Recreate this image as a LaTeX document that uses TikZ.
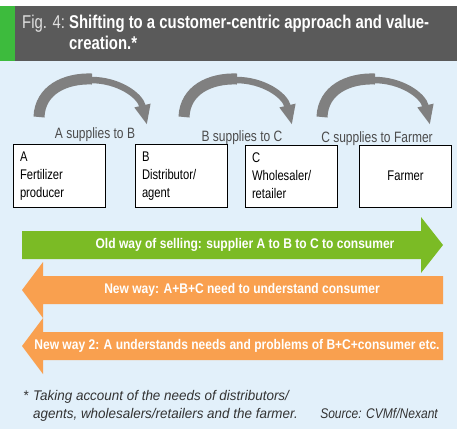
\documentclass[tikz,border=0pt]{standalone}
\usepackage{fontspec}
\setmainfont{Liberation Sans}[FakeStretch=0.86]
\newfontfamily\condfont{Liberation Sans}[FakeStretch=0.8]
\newfontfamily\ttlfont{Liberation Sans}[FakeStretch=0.805]
\newfontfamily\plainfont{Liberation Sans}[FakeStretch=0.96]
\usetikzlibrary{arrows.meta}

\definecolor{bgblue}{HTML}{E2F0FA}
\definecolor{bandgrey}{HTML}{5A5A5A}
\definecolor{stripegreen}{HTML}{3DBB3D}
\definecolor{arcgrey}{HTML}{808080}
\definecolor{oldgreen}{HTML}{7BBB25}
\definecolor{neworange}{HTML}{F9A04F}
\definecolor{notegrey}{HTML}{333333}

\tikzstyle{party}=[rectangle, draw=black, fill=white, line width=0.8pt, minimum width=92pt, minimum height=62pt, text width=78pt, inner sep=7pt, align=left, font=\condfont\fontsize{14}{18}\selectfont]
\tikzstyle{supply} = [anchor=base, inner sep=0pt, text=black!70, font=\condfont\fontsize{15}{18}\selectfont]
\tikzstyle{bartext} = [inner sep=0pt, text=white, font=\bfseries\fontsize{14}{16}\selectfont]
\tikzstyle{note} = [anchor=base west, inner sep=0pt, text=notegrey, font=\plainfont\itshape\fontsize{14}{18}\selectfont]
\tikzstyle{heading} = [anchor=base west, inner sep=0pt, text=white, font=\ttlfont\bfseries\fontsize{18.5}{20}\selectfont]
\tikzstyle{supplyarc} = [draw=arcgrey]

\begin{document}
\begin{tikzpicture}[x=1pt, y=-1pt]
        \useasboundingbox (0,0) rectangle (457,429);
        % background and title band
        \fill[bgblue] (0,61) rectangle (457,429);
        \fill[bandgrey] (15,6) rectangle (457,61);
        \fill[stripegreen] (0,6) rectangle (15,61);
        \node[heading, text=black!12, font=\ttlfont\fontsize{18.5}{20}\selectfont] (fig) at (22,28) {Fig. 4:};
        \node[heading] (title1) at (69,28) {Shifting to a customer-centric approach and value-};
        \node[heading] (title2) at (69,49) {creation.*};
        % curved supply arrows
        \foreach \dx in {0,145,283} {
            \begin{scope}[xshift=\dx]
                \path[supplyarc, line width=11pt] (39,117) .. controls (40,90) and (65,78) .. (92,79);
                \path[supplyarc, line width=6.5pt, -{Triangle[length=20pt,width=15pt]}] (91,80) .. controls (118,80) and (140,95) .. (147,125);
            \end{scope}
        }
        \node[supply] (ab) at (95,138) {A supplies to B};
        \node[supply] (bc) at (242,141) {B supplies to C};
        \node[supply] (cf) at (377,142) {C supplies to Farmer};
        % boxes
        \foreach \pos/\name/\txt in {{(59,176)/A/{A\\Fertilizer\\producer}}, {(181,176)/B/{B\\Distributor/\\agent}}, {(291,176)/C/{C\\Wholesaler/\\retailer}}}
            \node[party] (\name) at \pos {\txt};
        \node[party, align=center] (farmer) at (405.5,176) {Farmer};
        % selling arrows
        \fill[oldgreen] (22,231) -- (421,231) -- (421,217) -- (443,245) -- (421,273) -- (421,259) -- (22,259) -- cycle;
        \foreach \y in {290,346}
            \fill[neworange] (443,\y-14) -- (43,\y-14) -- (43,\y-28) -- (22,\y) -- (43,\y+28) -- (43,\y+14) -- (443,\y+14) -- cycle;
        \node[bartext] (old) at (245,245) {Old way of selling: supplier A to B to C to consumer};
        \node[bartext] (new) at (242,290) {New way: A+B+C need to understand consumer};
        \node[bartext] (new2) at (237,346) {New way 2: A understands needs and problems of B+C+consumer etc.};
        % footnote
        \node[note] (star) at (23,400) {*};
        \node[note] (note1) at (33,400) {Taking account of the needs of distributors/};
        \node[note] (note2) at (33,418) {agents, wholesalers/retailers and the farmer.};
        \node[note, anchor=base east, font=\itshape\fontsize{14}{18}\selectfont] (src) at (438,418) {Source: CVMf/Nexant};
    \end{tikzpicture}
\end{document}
